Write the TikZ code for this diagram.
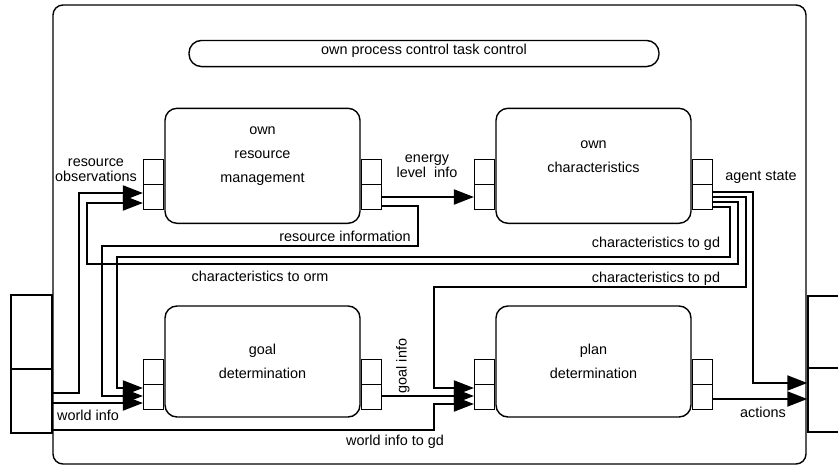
\documentclass[tikz,border=0pt]{standalone}
\usepackage{fontspec}
\setmainfont{Liberation Sans}
\usetikzlibrary{arrows.meta}

\newcommand\lbfont{\fontsize{14.4}{15}\selectfont}
\newcommand\mdfont{\fontsize{14.4}{24}\selectfont}

\tikzset{
  module/.style={draw, line width=1.4pt, rounded corners=12pt, minimum width=195pt, align=center, font=\mdfont},
  port/.style={draw, line width=1.4pt, minimum width=20pt, minimum height=25pt, inner sep=0pt},
  link/.style={line width=2pt, -{Triangle[length=20pt,width=15pt]}},
  lbl/.style={font=\lbfont, align=center, inner sep=1pt}
}

\begin{document}
\begin{tikzpicture}[x=1pt, y=-1pt, node distance=331pt]
\useasboundingbox (0,0) rectangle (838,466);

\node (agent) [draw, line width=1.4pt, rounded corners=10pt, minimum width=753pt, minimum height=459pt] at (429.5,234.5) {};
\node (ctrl) [draw, line width=1.4pt, rounded corners=12.5pt, minimum width=470pt, minimum height=25pt, font=\lbfont, text depth=9pt] at (424,53.5) {own process control task control};

\node (orm) [module, minimum height=115pt, text depth=23pt] at (262.5,165.8) {own\\resource\\management};
\node (owc) [module, minimum height=115pt, text depth=18pt, right of=orm] {own\\characteristics};
\node (gd) [module, minimum height=111pt, below of=orm, node distance=195.7pt] {goal\\determination};
\node (pd) [module, minimum height=111pt, right of=gd] {plan\\determination};

\foreach \m/\dy in {orm/6.8, owc/6.8, gd/2.5, pd/2.5} {
  \node (\m-i1) [port, anchor=north east, yshift=\dy pt] at (\m.west) {};
  \node (\m-i2) [port, below of=\m-i1, node distance=25pt] {};
  \node (\m-o1) [port, anchor=north west, yshift=\dy pt] at (\m.east) {};
  \node (\m-o2) [port, below of=\m-o1, node distance=25pt] {};
}

\node (in1) [port, minimum width=41pt, minimum height=74pt] at (31.5,332) {};
\node (in2) [port, minimum width=41pt, minimum height=64pt] at (31.5,401) {};
\node (out1) [port, minimum width=42pt, minimum height=72pt] at (829,332) {};
\node (out2) [port, minimum width=42pt, minimum height=64pt] at (829,400) {};

\draw[link] (in2.east |- 0,393) -| (79,193) -- (orm-i2.west |- 0,193);
\node[lbl] at (96,170) {resource\\observations};
\draw[link] (in2.east |- 0,403) -- (gd-i2.west |- 0,403);
\node[lbl] at (88,415) {world info};
\draw[link] (in2.east |- 0,430) -| (434,404) -- (pd-i2.west |- 0,404);
\node[lbl] at (395,442) {world info to gd};

\draw[link] (orm-o2.east |- 0,197) -- (owc-i2.west |- 0,197);
\node[lbl] at (427,166) {energy\\level\ \ info};
\draw[link] (orm-o2.east |- 0,206) -| (418,246) -| (102,396) -- (gd-i2.west |- 0,396);
\node[lbl] at (345,236) {resource information};

\draw[link] (owc-o2.east |- 0,192) -| (753,383) -- (out2.west |- 0,383);
\node[lbl] at (761,177) {agent state};
\draw[link] (owc-o2.east |- 0,197) -| (746,287) -| (434,388) -- (pd-i2.west |- 0,388);
\node[lbl] at (656,279) {characteristics to pd};
\draw[link] (owc-o2.east |- 0,202) -| (738,264) -| (87,203) -- (orm-i2.west |- 0,203);
\node[lbl] at (260,276) {characteristics to orm};
\draw[link] (owc-o2.east |- 0,207) -| (730,257) -| (117,388) -- (gd-i2.west |- 0,388);
\node[lbl] at (656,244) {characteristics to gd};

\draw[link] (gd-o2.east |- 0,396) -- (pd-i2.west |- 0,396);
\node[lbl, rotate=90] at (403,366) {goal info};
\draw[link] (pd-o2.east |- 0,399) -- (out2.west |- 0,399);
\node[lbl] at (763,412) {actions};
\end{tikzpicture}
\end{document}
